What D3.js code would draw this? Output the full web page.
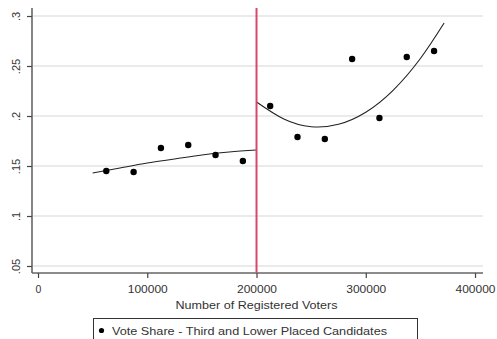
<!DOCTYPE html>
<html>
<head>
<meta charset="utf-8">
<script src="https://cdn.jsdelivr.net/npm/d3@7"></script>
<style>
  html, body { margin: 0; padding: 0; background: #fff; }
  svg { display: block; font-family: "Liberation Sans", Arial, sans-serif; }
</style>
</head>
<body>
<svg id="chart" width="497" height="339"></svg>
<script>
// Binned scatter, left of the cutoff
const leftVoters = [62500, 87500, 112500, 137500, 162500, 187500];
const leftShare = [0.145, 0.144, 0.168, 0.171, 0.161, 0.155];

// Binned scatter, right of the cutoff
const rightVoters = [212500, 237500, 262500, 287500, 312500, 337500, 362500];
const rightShare = [0.210, 0.179, 0.177, 0.257, 0.198, 0.259, 0.265];

// Fitted curves
const leftFitX = [50000, 75000, 100000, 125000, 150000, 175000, 200000];
const leftFitY = [0.143, 0.148, 0.153, 0.157, 0.161, 0.164, 0.166];
const rightFitX = [200000, 225000, 250000, 275000, 300000, 325000, 350000, 371700];
const rightFitY = [0.214, 0.197, 0.1893, 0.1917, 0.2038, 0.2257, 0.2575, 0.293];

const cutoff = 200000;
const xTicks = [0, 100000, 200000, 300000, 400000];
const yTicks = [0.05, 0.1, 0.15, 0.2, 0.25, 0.3];
const yTickLabels = [".05", ".1", ".15", ".2", ".25", ".3"];
const xTitle = "Number of Registered Voters";
const legendLabel = "Vote Share - Third and Lower Placed Candidates";

const svg = d3.select("#chart");

// plot area edges
const PLOT_LEFT = 32, PLOT_RIGHT = 483, PLOT_TOP = 8, PLOT_BOTTOM = 273;

const x = d3.scaleLinear().domain([-5500, 407300]).range([PLOT_LEFT, PLOT_RIGHT]);
const y = d3.scaleLinear().domain([0.043, 0.308]).range([PLOT_BOTTOM, PLOT_TOP]);

// gridlines
svg.append("g")
  .selectAll("line")
  .data(yTicks)
  .enter()
  .append("line")
  .attr("x1", PLOT_LEFT + 1)
  .attr("x2", PLOT_RIGHT)
  .attr("y1", (d) => y(d))
  .attr("y2", (d) => y(d))
  .attr("stroke", "#e4e4e4")
  .attr("stroke-width", 1.5);

// y axis
const yAxis = svg.append("g")
  .attr("transform", `translate(${PLOT_LEFT},0)`)
  .call(d3.axisLeft(y).tickValues(yTicks).tickSize(5).tickFormat((d, i) => yTickLabels[i]));
yAxis.select(".domain").attr("stroke", "#666").attr("stroke-width", 1.6)
  .attr("d", `M0,${PLOT_TOP}V${PLOT_BOTTOM}`);
yAxis.selectAll(".tick line").attr("stroke", "#444").attr("stroke-width", 1.2);
yAxis.selectAll(".tick text")
  .attr("fill", "#333")
  .style("font-size", "11px")
  .attr("transform", "rotate(-90)")
  .attr("x", 0)
  .attr("y", -12)
  .attr("dy", "0")
  .attr("text-anchor", "middle");

// x axis, labels are a bit wider than the font in the original
const xAxis = svg.append("g")
  .attr("transform", `translate(0,${PLOT_BOTTOM})`)
  .call(d3.axisBottom(x).tickValues(xTicks).tickSize(5).tickFormat(d3.format("d")));
xAxis.select(".domain").attr("stroke", "#666").attr("stroke-width", 1.6)
  .attr("d", `M${PLOT_LEFT},0H${PLOT_RIGHT}`);
xAxis.selectAll(".tick line").attr("stroke", "#444").attr("stroke-width", 1.2);
xAxis.selectAll(".tick text")
  .attr("fill", "#333")
  .style("font-size", "10.5px")
  .attr("y", 20)
  .attr("dy", "0")
  .each(function (d) {
    if (d > 0) {
      d3.select(this).attr("textLength", 40).attr("lengthAdjust", "spacingAndGlyphs");
    }
  });

// x axis title
svg.append("text")
  .attr("x", x(cutoff))
  .attr("y", 309)
  .attr("text-anchor", "middle")
  .attr("fill", "#333")
  .style("font-size", "11px")
  .attr("textLength", 162)
  .attr("lengthAdjust", "spacingAndGlyphs")
  .text(xTitle);

// fit lines
const fitLine = d3.line()
  .x((d) => x(d[0]))
  .y((d) => y(d[1]))
  .curve(d3.curveNatural);

svg.append("path")
  .datum(d3.zip(leftFitX, leftFitY))
  .attr("d", fitLine)
  .attr("fill", "none")
  .attr("stroke", "#222")
  .attr("stroke-width", 1.1);

svg.append("path")
  .datum(d3.zip(rightFitX, rightFitY))
  .attr("d", fitLine)
  .attr("fill", "none")
  .attr("stroke", "#222")
  .attr("stroke-width", 1.1);

// cutoff line
svg.append("line")
  .attr("x1", x(cutoff))
  .attr("x2", x(cutoff))
  .attr("y1", PLOT_TOP)
  .attr("y2", PLOT_BOTTOM)
  .attr("stroke", "#d9466c")
  .attr("stroke-width", 2);

// scatter points
const points = d3.zip(leftVoters.concat(rightVoters), leftShare.concat(rightShare));
svg.append("g")
  .selectAll("circle")
  .data(points)
  .enter()
  .append("circle")
  .attr("cx", (d) => x(d[0]))
  .attr("cy", (d) => y(d[1]))
  .attr("r", 3.2)
  .attr("fill", "#000");

// legend
const legend = svg.append("g");
legend.append("rect")
  .attr("x", 93.5)
  .attr("y", 318.5)
  .attr("width", 324)
  .attr("height", 30)
  .attr("fill", "#fff")
  .attr("stroke", "#333")
  .attr("stroke-width", 1);
legend.append("circle")
  .attr("cx", 101.5)
  .attr("cy", 330.5)
  .attr("r", 2.6)
  .attr("fill", "#000");
legend.append("text")
  .attr("x", 112)
  .attr("y", 335)
  .attr("fill", "#333")
  .style("font-size", "11px")
  .attr("textLength", 275)
  .attr("lengthAdjust", "spacingAndGlyphs")
  .text(legendLabel);
</script>
</body>
</html>
